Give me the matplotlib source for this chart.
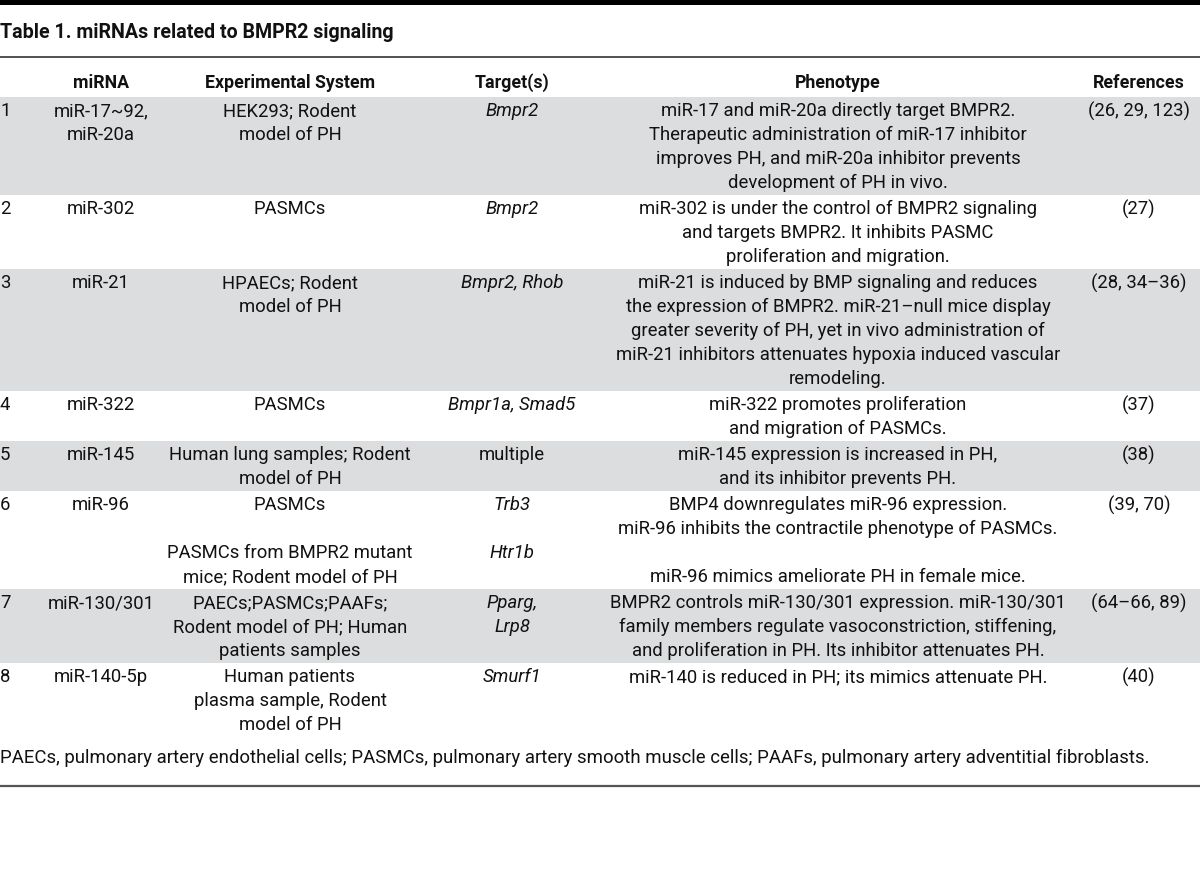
"""Table 1: miRNAs related to BMPR2 signaling, drawn as a matplotlib table figure."""

import matplotlib
matplotlib.use("Agg")
import matplotlib.pyplot as plt

title = "Table 1. miRNAs related to BMPR2 signaling"
headers = ["miRNA", "Experimental System", "Target(s)", "Phenotype", "References"]

numbers = ["1", "2", "3", "4", "5", "6", "7", "8"]
mirnas = [
    "miR-17~92,\nmiR-20a",
    "miR-302",
    "miR-21",
    "miR-322",
    "miR-145",
    "miR-96",
    "miR-130/301",
    "miR-140-5p",
]
systems = [
    "HEK293; Rodent\nmodel of PH",
    "PASMCs",
    "HPAECs; Rodent\nmodel of PH",
    "PASMCs",
    "Human lung samples; Rodent\nmodel of PH",
    "PASMCs\n\nPASMCs from BMPR2 mutant\nmice; Rodent model of PH",
    "PAECs;PASMCs;PAAFs;\nRodent model of PH; Human\npatients samples",
    "Human patients\nplasma sample, Rodent\nmodel of PH",
]
targets = [
    "Bmpr2",
    "Bmpr2",
    "Bmpr2, Rhob",
    "Bmpr1a, Smad5",
    "multiple",
    "Trb3\n\nHtr1b",
    "Pparg,\nLrp8",
    "Smurf1",
]
# "multiple" is set upright in the original
target_italic = [True, True, True, True, False, True, True, True]
phenotypes = [
    "miR-17 and miR-20a directly target BMPR2.\nTherapeutic administration of miR-17 inhibitor\n"
    "improves PH, and miR-20a inhibitor prevents\ndevelopment of PH in vivo.",
    "miR-302 is under the control of BMPR2 signaling\nand targets BMPR2. It inhibits PASMC\n"
    "proliferation and migration.",
    "miR-21 is induced by BMP signaling and reduces\nthe expression of BMPR2. miR-21\u2013null mice display\n"
    "greater severity of PH, yet in vivo administration of\n"
    "miR-21 inhibitors attenuates hypoxia induced vascular\nremodeling.",
    "miR-322 promotes proliferation\nand migration of PASMCs.",
    "miR-145 expression is increased in PH,\nand its inhibitor prevents PH.",
    "BMP4 downregulates miR-96 expression.\nmiR-96 inhibits the contractile phenotype of PASMCs.\n\n"
    "miR-96 mimics ameliorate PH in female mice.",
    "BMPR2 controls miR-130/301 expression. miR-130/301\nfamily members regulate vasoconstriction, stiffening,\n"
    "and proliferation in PH. Its inhibitor attenuates PH.",
    "miR-140 is reduced in PH; its mimics attenuate PH.",
]
references = [
    "(26, 29, 123)",
    "(27)",
    "(28, 34\u201336)",
    "(37)",
    "(38)",
    "(39, 70)",
    "(64\u201366, 89)",
    "(40)",
]
footnote = ("PAECs, pulmonary artery endothelial cells; PASMCs, pulmonary artery smooth muscle cells; "
            "PAAFs, pulmonary artery adventitial fibroblasts.")

FONT = "Roboto"
BAND = "#dcdddf"
TEXT = "#111111"
LINE_H = 24
BODY = 13.3

col_x = [101, 290, 512, 838, 1139]

fig = plt.figure(figsize=(12, 8.92), dpi=100)
ax = fig.add_axes([0, 0, 1, 1])
ax.set_xlim(0, 1200)
ax.set_ylim(892, 0)
ax.axis("off")

# top black rule, title and rule below it
ax.axhspan(0, 5, color="black", lw=0)
ax.text(0, 33, title, fontsize=14.1, fontweight="bold", family=FONT,
        ha="left", va="center", color=TEXT)
ax.axhline(57, color="#333333", lw=1.2)

for x, h in zip(col_x, headers):
    ax.text(x, 83, h, fontsize=12.8, fontweight="bold", family=FONT,
            ha="center", va="center", color=TEXT)

top = 97
for i in range(len(numbers)):
    cells = [mirnas[i], systems[i], targets[i], phenotypes[i], references[i]]
    n = max(c.count("\n") + 1 for c in cells)
    height = LINE_H * (n - 1) + 26
    if i % 2 == 0:
        ax.axhspan(top, top + height, color=BAND, lw=0, zorder=0)
    ax.text(0, top + 14, numbers[i], fontsize=BODY, family=FONT,
            ha="left", va="center", color=TEXT)
    for j, (x, cell) in enumerate(zip(col_x, cells)):
        style = "italic" if (j == 2 and target_italic[i]) else "normal"
        for k, line in enumerate(cell.split("\n")):
            if line:
                ax.text(x, top + 14 + LINE_H * k, line, fontsize=BODY, family=FONT,
                        style=style, ha="center", va="center", color=TEXT)
    top += height

ax.text(0, 758, footnote, fontsize=13.4, family=FONT,
        ha="left", va="center", color=TEXT)
ax.axhline(786, color="#555555", lw=1.6)

fig.savefig("out.png", dpi=100, facecolor="white")
